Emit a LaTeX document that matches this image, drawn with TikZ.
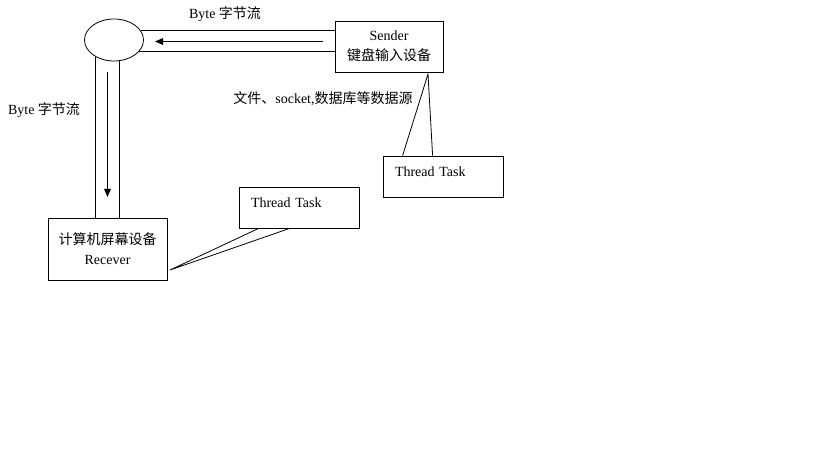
\documentclass[tikz,border=0pt]{standalone}
\usepackage{fontspec}
\setmainfont{Liberation Serif}
\newfontfamily\cjk{Noto Sans CJK SC}
\usetikzlibrary{shapes.geometric,arrows.meta,calc}
\begin{document}
\begin{tikzpicture}[x=0.75pt,y=-0.75pt,line width=0.6pt,
  every node/.style={font=\fontsize{10.5}{15}\selectfont},
  box/.style={draw, rectangle, align=center},
  task/.style={draw, rectangle, minimum height=30.75pt, text width=72pt, text depth=7pt, inner xsep=9pt, align=left},
  flow/.style={-{Triangle[length=6pt,width=5pt]}}]
\useasboundingbox (0,0) rectangle (819,460);
\node (src) [draw, ellipse, minimum width=44.25pt, minimum height=31.5pt, inner sep=0pt] at (114,40) {};
\node (snd) [box, minimum width=81pt, minimum height=38.25pt] at (389,46.5) {Sender\\{\cjk 键盘输入设备}};
\node (rcv) [box, minimum width=89.25pt, minimum height=46.5pt] at (107.5,249) {{\cjk 计算机屏幕设备}\\Recever};
\node (tsk1) [task] at (299,207.5) {Thread Task};
\node (tsk2) [task] at (443,176.5) {Thread Task};
\node (byte1) at (225,14) {Byte {\cjk 字节流}};
\node (byte2) at (44,110) {Byte {\cjk 字节流}};
\node (srcs) at (323,99) {{\cjk 文件、}socket,{\cjk 数据库等数据源}};
% pipes
\draw (src.19) -- (src.19 -| snd.west);
\draw (src.-24) -- (src.-24 -| snd.west);
\draw (src.223) -- (src.223 |- rcv.north);
\draw (src.284) -- (src.284 |- rcv.north);
% byte flow
\coordinate (h1) at (323,41.5);
\coordinate (h2) at (155,41.5);
\draw[flow] (h1) -- (h2);
\coordinate (v1) at (107.5,72);
\coordinate (v2) at (107.5,197);
\draw[flow] (v1) -- (v2);
% callouts
\coordinate (tip1) at (170,270);
\coordinate (tip2) at (428,74);
\draw ($(tsk1.south west)+(20,0)$) -- (tip1) -- ($(tsk1.south west)+(51,0)$);
\draw ($(tsk2.north west)+(20,0)$) -- (tip2) -- ($(tsk2.north west)+(50,0)$);
\end{tikzpicture}
\end{document}
